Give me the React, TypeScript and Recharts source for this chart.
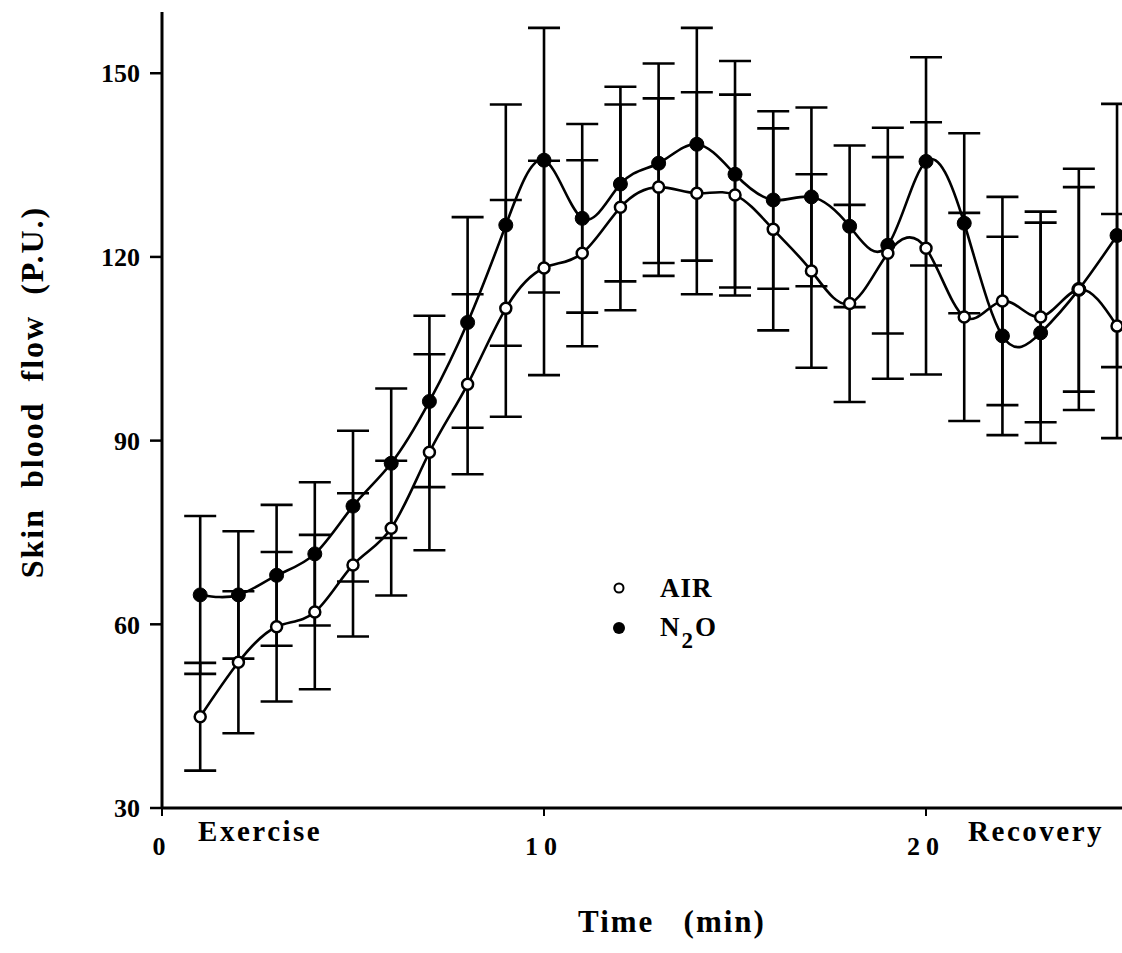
import { ErrorBar, Legend, Line, LineChart, ReferenceLine, XAxis, YAxis } from 'recharts'

const minutes = [1, 2, 3, 4, 5, 6, 7, 8, 9, 10, 11, 12, 13, 14, 15, 16, 17, 18, 19, 20, 21, 22, 23, 24, 25]

const airMean = [
  44.9, 53.8, 59.6, 62.0, 69.7, 75.7, 88.1, 99.2, 111.6, 118.2, 120.6, 128.1, 131.4,
  130.4, 130.1, 124.5, 117.7, 112.4, 120.6, 121.4, 110.2, 112.8, 110.2, 114.7, 108.7,
]
const airSd = [
  8.8, 11.6, 12.2, 12.6, 11.7, 11.0, 16.0, 14.7, 17.7, 17.5, 15.2, 16.8, 14.5,
  16.5, 16.4, 16.5, 15.8, 16.1, 20.5, 20.6, 17.0, 17.0, 17.2, 16.7, 18.3,
]
const n2oMean = [
  64.8, 64.8, 68.0, 71.5, 79.3, 86.3, 96.4, 109.3, 125.2, 135.8, 126.3, 131.9, 135.3,
  138.4, 133.5, 129.3, 129.8, 125.0, 121.9, 135.6, 125.5, 107.1, 107.6, 114.7, 123.5,
]
const n2oSd = [
  12.9, 10.4, 11.5, 11.7, 12.3, 12.2, 14.0, 17.2, 19.7, 21.6, 15.4, 15.9, 16.3,
  19.0, 18.5, 14.5, 14.6, 13.2, 14.4, 17.0, 14.7, 16.2, 18.0, 19.7, 21.5,
]

const xTicks = [0, 10, 20]
const yTicks = [30, 60, 90, 120, 150]
// phase captions under the time axis, anchored in minutes
const phases = [
  { t: 2.57, text: 'Exercise' },
  { t: 22.88, text: 'Recovery' },
]

const rows = minutes.map((t, i) => ({
  t,
  air: airMean[i],
  airSd: airSd[i],
  n2o: n2oMean[i],
  n2oSd: n2oSd[i],
}))

const FONT = '"Liberation Serif", "Times New Roman", serif'

const tickStyle = { fontSize: 26, fontWeight: 700, fill: '#000', fontFamily: FONT }

function LegendBox({ payload }: any) {
  const items = [...(payload ?? [])].sort((a: any) => (a.dataKey === 'air' ? -1 : 1))
  return (
    <div style={{ fontFamily: FONT, fontWeight: 700, fontSize: 27, color: '#000' }}>
      {items.map((it: any) => (
        <div key={it.dataKey} style={{ display: 'flex', alignItems: 'center', height: 40 }}>
          <svg width={14} height={14}>
            {it.dataKey === 'air' ? (
              <circle cx={7} cy={7} r={4.5} fill="#fff" stroke="#000" strokeWidth={2} />
            ) : (
              <circle cx={7} cy={7} r={6} fill="#000" />
            )}
          </svg>
          <span style={{ marginLeft: 34, lineHeight: '26px', letterSpacing: 1 }}>
            {it.dataKey === 'air' ? (
              'AIR'
            ) : (
              <>
                N
                <span style={{ fontSize: 23, position: 'relative', top: 12, marginLeft: 1, marginRight: 1 }}>2</span>
                O
              </>
            )}
          </span>
        </div>
      ))}
    </div>
  )
}

export default function App() {
  return (
    <div style={{ position: 'absolute', left: 0, top: 0, background: '#fff' }}>
      <LineChart
        width={1122}
        height={953}
        data={rows}
        margin={{ top: 12, right: 0, left: 0, bottom: 0 }}
        style={{ fontFamily: FONT }}
      >
        <XAxis
          type="number"
          dataKey="t"
          domain={[0, 25.13]}
          ticks={xTicks}
          allowDataOverflow
          height={145}
          tickSize={8}
          tickMargin={21}
          tick={{ ...tickStyle, letterSpacing: 6 }}
          axisLine={{ stroke: '#000', strokeWidth: 3 }}
          tickLine={{ stroke: '#000', strokeWidth: 2 }}
          label={({ viewBox }: any) => (
            <text
              x={viewBox.x + viewBox.width / 2 + 30}
              y={viewBox.y + 124}
              textAnchor="middle"
              fontFamily={FONT}
              fontWeight={700}
              fontSize={31}
              letterSpacing={2}
              fill="#000"
            >
              {'Time\u00a0\u00a0\u00a0(min)'}
            </text>
          )}
        />
        <YAxis
          type="number"
          domain={[30, 160]}
          ticks={yTicks}
          allowDataOverflow
          width={162}
          tickSize={12}
          tickMargin={10}
          tick={tickStyle}
          axisLine={{ stroke: '#000', strokeWidth: 3 }}
          tickLine={{ stroke: '#000', strokeWidth: 2.5 }}
          label={({ viewBox }: any) => (
            <text
              x={viewBox.x + 32}
              y={viewBox.y + 380}
              transform={`rotate(-90 ${viewBox.x + 32} ${viewBox.y + 380})`}
              textAnchor="middle"
              dominantBaseline="central"
              fontFamily={FONT}
              fontWeight={700}
              fontSize={32}
              letterSpacing={2}
              fill="#000"
            >
              {'Skin\u00a0\u00a0blood\u00a0\u00a0flow\u00a0\u00a0(P.U.)'}
            </text>
          )}
        />
        {phases.map((p) => (
          <ReferenceLine
            key={p.text}
            x={p.t}
            stroke="none"
            label={{
              value: p.text,
              position: 'bottom',
              offset: 12,
              fill: '#000',
              fontSize: 29,
              fontWeight: 700,
              fontFamily: FONT,
              letterSpacing: 2.5,
            }}
          />
        ))}
        <Legend
          layout="vertical"
          align="center"
          verticalAlign="middle"
          content={<LegendBox />}
          wrapperStyle={{ left: 612, top: 568, width: 160 }}
        />
        <Line
          type="natural"
          dataKey="n2o"
          name="N2O"
          stroke="#000"
          strokeWidth={2.6}
          dot={{ r: 7, fill: '#000', stroke: '#000', strokeWidth: 1 }}
          activeDot={false}
          isAnimationActive={false}
        >
          <ErrorBar dataKey="n2oSd" direction="y" width={16} stroke="#000" strokeWidth={2.6} />
        </Line>
        <Line
          type="natural"
          dataKey="air"
          name="AIR"
          stroke="#000"
          strokeWidth={2.6}
          dot={{ r: 5.5, fill: '#fff', stroke: '#000', strokeWidth: 2.5 }}
          activeDot={false}
          isAnimationActive={false}
        >
          <ErrorBar dataKey="airSd" direction="y" width={16} stroke="#000" strokeWidth={2.6} />
        </Line>
      </LineChart>
    </div>
  )
}
